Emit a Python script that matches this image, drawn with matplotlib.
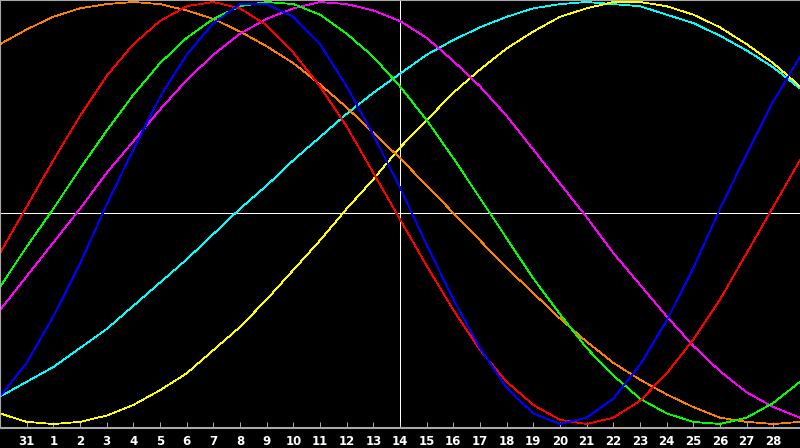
import matplotlib
matplotlib.use("Agg")
import matplotlib.pyplot as plt

# day index 0..30 (Jan 30 .. Mar 1), one sample per day
days = list(range(31))
tick_days = list(range(1, 30))
tick_labels = ["31", "1", "2", "3", "4", "5", "6", "7", "8", "9", "10", "11", "12", "13",
               "14", "15", "16", "17", "18", "19", "20", "21", "22", "23", "24", "25",
               "26", "27", "28"]
today = 15

# rhythm values in percent
red = [-19, 3, 25, 46, 65, 80, 91, 98, 100, 97, 89, 76, 60, 41, 19, -3,
       -25, -46, -65, -80, -91, -98, -100, -97, -89, -76, -60, -41, -19, 3, 25]
blue = [-87, -71, -49, -24, 4, 30, 55, 75, 90, 99, 99, 93, 80, 60, 37, 12,
        -15, -41, -64, -83, -95, -100, -97, -88, -72, -51, -26, 2, 28, 53, 74]
green = [-35, -16, 2, 21, 39, 56, 71, 83, 92, 98, 100, 99, 94, 85, 74, 60,
         44, 26, 7, -12, -31, -48, -64, -77, -88, -95, -99, -100, -97, -90, -80]
magenta = [-46, -30, -14, 2, 19, 34, 49, 63, 75, 85, 92, 97, 100, 99, 96, 91,
           83, 72, 60, 46, 30, 14, -2, -19, -34, -49, -63, -75, -85, -92, -97]
yellow = [-95, -99, -100, -99, -96, -91, -84, -76, -65, -54, -41, -27, -13, 2, 16, 31,
          44, 57, 68, 78, 86, 93, 97, 100, 100, 98, 94, 88, 80, 71, 60]
orange = [80, 87, 93, 97, 99, 100, 99, 96, 92, 86, 79, 71, 61, 50, 38, 26,
          13, 0, -13, -26, -38, -50, -61, -71, -79, -86, -92, -97, -99, -100, -99]
cyan = [-87, -80, -73, -64, -55, -44, -33, -22, -10, 2, 13, 25, 36, 47, 57, 66,
        75, 82, 88, 93, 97, 99, 100, 99, 98, 94, 90, 84, 77, 69, 59]

series = [
    (cyan, "#00ffff"),
    (yellow, "#ffff00"),
    (orange, "#ff8000"),
    (magenta, "#ff00ff"),
    (green, "#00ff00"),
    (red, "#ff0000"),
    (blue, "#0000ff"),
]

fig = plt.figure(figsize=(8, 4.48), dpi=100, facecolor="black")
ax = fig.add_axes([0, 20 / 448, 1, 428 / 448])
ax.set_facecolor("black")

ax.axhline(0, color="white", lw=0.55, antialiased=False, zorder=1)
ax.axvline(today, color="white", lw=0.55, antialiased=False, zorder=1)

for vals, col in series:
    ax.plot(days, vals, color=col, lw=0.55, antialiased=False, zorder=2)

ax.set_xlim(0, 30)
ax.set_ylim(-101.9, 100.95)

ax.set_xticks(tick_days)
ax.set_xticklabels(tick_labels, fontsize=8.5, fontweight="bold", color="white")
ax.set_yticks([])
ax.tick_params(axis="x", direction="in", length=4, width=0.55, color="#dddddd", pad=5)

for side in ["left", "top", "bottom"]:
    ax.spines[side].set_color("#a8a8a8")
    ax.spines[side].set_linewidth(1.5)
ax.spines["right"].set_visible(False)

fig.savefig("out.png", dpi=100, facecolor="black")
